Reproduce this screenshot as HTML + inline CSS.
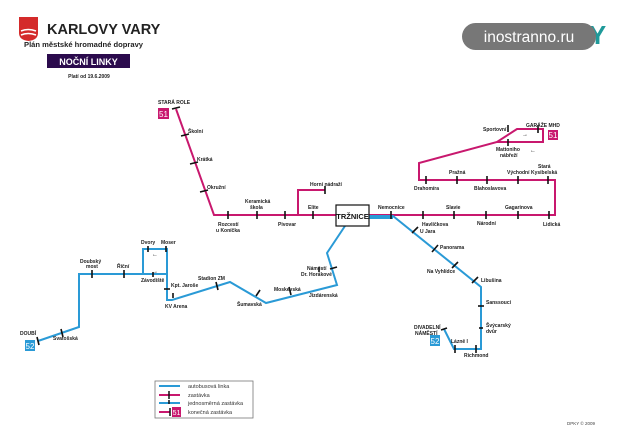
<!DOCTYPE html>
<html><head><meta charset="utf-8"><style>
html,body{margin:0;padding:0;background:#fff;}
svg{display:block;font-family:"Liberation Sans",sans-serif;font-weight:bold;}
.s{font-size:5px;fill:#222;}
</style></head><body>
<svg width="620" height="435" viewBox="0 0 620 435" xmlns="http://www.w3.org/2000/svg">
<!-- header -->
<path d="M19 17 H38 V33 Q38 40 28.5 41 Q19 40 19 33 Z" fill="#d42a2a"/>
<path d="M21 31 Q28 28 36 31 M21 35 Q28 32 36 35" stroke="#fff" stroke-width="1.5" fill="none"/>
<text x="47" y="34" font-size="14.5" fill="#222">KARLOVY VARY</text>
<text x="24" y="47" font-size="7.6" fill="#222">Plán městské hromadné dopravy</text>
<rect x="47" y="54" width="83" height="14" fill="#2b0b4d"/>
<text x="88.5" y="65" font-size="9" fill="#fff" text-anchor="middle">NOČNÍ LINKY</text>
<text x="89" y="78" font-size="5" fill="#222" text-anchor="middle">Platí od 19.6.2009</text>
<!-- watermark -->
<text x="534" y="44" font-size="26" fill="#1f9a9a" font-weight="bold">DPKY</text>
<rect x="462" y="23" width="134" height="27" rx="13.5" fill="#777"/>
<text x="529" y="42" font-size="15.5" fill="#fff" text-anchor="middle" font-weight="normal">inostranno.ru</text>

<g fill="none" stroke-linejoin="miter">
<polyline points="176,109 214,215 555,215 555,180 419,180 419,163 497,142 517,129 543,129 543,142 497,142" stroke="#c8186e" stroke-width="2"/>
<polyline points="298,215 298,190 325,190" stroke="#c8186e" stroke-width="2"/>
<polyline points="345,226 327,253 337,285 266,303 230,282 172,300 167,300 167,249 143,249 143,274" stroke="#2a9ad6" stroke-width="2"/>
<polyline points="38,341 79,327 79,274 167,274" stroke="#2a9ad6" stroke-width="2"/>
<polyline points="369,216 393,216 481,287 481,349 454,349 444,329" stroke="#2a9ad6" stroke-width="2"/>
<line x1="369" y1="218" x2="393" y2="218" stroke="#2a9ad6" stroke-width="2"/>
</g>
<g stroke="#111" stroke-width="1.6">
<line x1="228" y1="211" x2="228" y2="219"/><line x1="257" y1="211" x2="257" y2="219"/><line x1="285" y1="211" x2="285" y2="219"/><line x1="313" y1="211" x2="313" y2="219"/>
<line x1="391" y1="211" x2="391" y2="219"/><line x1="423" y1="211" x2="423" y2="219"/><line x1="454" y1="211" x2="454" y2="219"/><line x1="486" y1="211" x2="486" y2="219"/><line x1="518" y1="211" x2="518" y2="219"/><line x1="549" y1="211" x2="549" y2="219"/>
<line x1="426" y1="176" x2="426" y2="184"/><line x1="457" y1="176" x2="457" y2="184"/><line x1="487" y1="176" x2="487" y2="184"/><line x1="518" y1="176" x2="518" y2="184"/><line x1="548" y1="176" x2="548" y2="184"/>
<line x1="325" y1="186" x2="325" y2="194"/>
<line x1="181" y1="136" x2="189" y2="134"/><line x1="190" y1="164" x2="198" y2="162"/><line x1="200" y1="192" x2="208" y2="190"/>
<line x1="172" y1="109" x2="180" y2="107"/>
<line x1="508" y1="125" x2="508" y2="132"/><line x1="508" y1="139" x2="508" y2="146"/><line x1="538" y1="125" x2="538" y2="133"/>
<!-- blue ticks -->
<line x1="330" y1="269" x2="337" y2="267"/><line x1="319" y1="267" x2="319" y2="272"/><line x1="289" y1="287" x2="291" y2="295"/><line x1="256" y1="296" x2="260" y2="290"/><line x1="216" y1="282" x2="218" y2="290"/><line x1="173" y1="293" x2="173" y2="298"/><line x1="164" y1="289" x2="170" y2="289"/><line x1="153" y1="272" x2="153" y2="277"/><line x1="148" y1="246" x2="148" y2="252"/><line x1="166" y1="246" x2="166" y2="252"/>
<line x1="124" y1="270" x2="124" y2="278"/><line x1="92" y1="270" x2="92" y2="278"/><line x1="61" y1="329" x2="63" y2="337"/><line x1="37" y1="337" x2="39" y2="345"/>
<line x1="412" y1="233" x2="418" y2="227"/><line x1="432" y1="252" x2="438" y2="245"/><line x1="452" y1="268" x2="458" y2="262"/><line x1="472" y1="283" x2="478" y2="277"/><line x1="478" y1="306" x2="484" y2="306"/><line x1="479" y1="328" x2="483" y2="328"/><line x1="476" y1="353" x2="476" y2="345"/><line x1="455" y1="353" x2="455" y2="345"/><line x1="441" y1="330" x2="447" y2="328"/>
</g>
<text x="152" y="256" font-size="6" fill="#222">←</text><text x="152" y="273" font-size="6" fill="#222">→</text>
<text x="522" y="136" font-size="6" fill="#222">→</text><text x="530" y="152" font-size="6" fill="#222">←</text>
<rect x="336" y="205" width="33" height="21" fill="#fff" stroke="#111" stroke-width="1.2"/>
<text x="352.5" y="219" font-size="7.5" fill="#111" text-anchor="middle">TRŽNICE</text>
<rect x="158" y="108" width="11" height="11" fill="#c8186e"/><text x="163.5" y="117" font-size="8" fill="#fff" text-anchor="middle" font-weight="normal">51</text>
<rect x="548" y="130" width="10" height="10" fill="#c8186e"/><text x="553" y="138" font-size="8" fill="#fff" text-anchor="middle" font-weight="normal">51</text>
<rect x="25" y="340" width="10" height="11" fill="#2a9ad6"/><text x="30" y="349" font-size="8" fill="#fff" text-anchor="middle" font-weight="normal">52</text>
<rect x="430" y="335" width="10" height="11" fill="#2a9ad6"/><text x="435" y="344" font-size="8" fill="#fff" text-anchor="middle" font-weight="normal">52</text>
<g class="s">
<text x="158" y="104">STARÁ ROLE</text>
<text x="188" y="133">Školní</text><text x="197" y="161">Krátká</text><text x="207" y="189">Okružní</text>
<text x="218" y="226">Rozcestí</text><text x="216" y="232">u Koníčka</text>
<text x="245" y="203">Keramická</text><text x="250" y="209">škola</text>
<text x="278" y="226">Pivovar</text><text x="308" y="209">Elite</text><text x="310" y="186">Horní nádraží</text>
<text x="378" y="209">Nemocnice</text><text x="422" y="226">Havlíčkova</text><text x="446" y="209">Slavie</text><text x="477" y="225">Národní</text><text x="505" y="209">Gagarinova</text><text x="543" y="226">Lidická</text>
<text x="414" y="190">Drahomíra</text><text x="449" y="174">Pražná</text><text x="474" y="190">Blahoslavova</text><text x="507" y="174">Východní</text><text x="538" y="168">Stará</text><text x="531" y="174">Kysibelská</text>
<text x="483" y="131">Sportovní</text><text x="526" y="127">GARÁŽE MHD</text><text x="496" y="151">Mattoniho</text><text x="500" y="157">nábřeží</text>
<text x="420" y="233">U Jara</text><text x="440" y="249">Panorama</text><text x="427" y="273">Na Vyhlídce</text><text x="481" y="282">Libušina</text><text x="486" y="304">Sanssouci</text><text x="486" y="327">Švýcarský</text><text x="486" y="333">dvůr</text>
<text x="464" y="357">Richmond</text><text x="451" y="343">Lázně I</text><text x="414" y="329">DIVADELNÍ</text><text x="415" y="335">NÁMĚSTÍ</text>
<text x="307" y="270">Náměstí</text><text x="301" y="276">Dr. Horákové</text><text x="309" y="297">Jízdárenská</text><text x="274" y="291">Moskevská</text><text x="237" y="306">Šumavská</text><text x="198" y="280">Stadion ZM</text><text x="165" y="308">KV Arena</text><text x="171" y="287">Kpt. Jaroše</text>
<text x="141" y="282">Závodiště</text><text x="141" y="244">Dvory</text><text x="161" y="244">Moser</text><text x="117" y="268">Říční</text><text x="80" y="263">Doubský</text><text x="86" y="268">most</text>
<text x="53" y="340">Svatošská</text><text x="20" y="335">DOUBÍ</text>
</g>
<rect x="155" y="381" width="98" height="37" fill="#fff" stroke="#777" stroke-width="0.8"/>
<g stroke-width="2"><line x1="159" y1="386" x2="180" y2="386" stroke="#2a9ad6"/><line x1="159" y1="395" x2="180" y2="395" stroke="#c8186e"/><line x1="159" y1="403" x2="180" y2="403" stroke="#2a9ad6"/><line x1="159" y1="412" x2="170" y2="412" stroke="#c8186e"/></g>
<g stroke="#111" stroke-width="1.5"><line x1="169" y1="391" x2="169" y2="399"/><line x1="169" y1="400" x2="169" y2="404"/><line x1="170" y1="408" x2="170" y2="416"/></g>
<rect x="172" y="407" width="9" height="10" fill="#c8186e"/><text x="176.5" y="415" font-size="7" fill="#fff" text-anchor="middle" font-weight="normal">51</text>
<g font-size="5.5" fill="#333" font-weight="normal"><text x="188" y="388">autobusová linka</text><text x="188" y="397">zastávka</text><text x="188" y="405">jednosměrná zastávka</text><text x="188" y="414">konečná zastávka</text></g>
<text x="567" y="425" font-size="4.5" fill="#444" font-weight="normal">DPKY © 2009</text>
</svg>
</body></html>
